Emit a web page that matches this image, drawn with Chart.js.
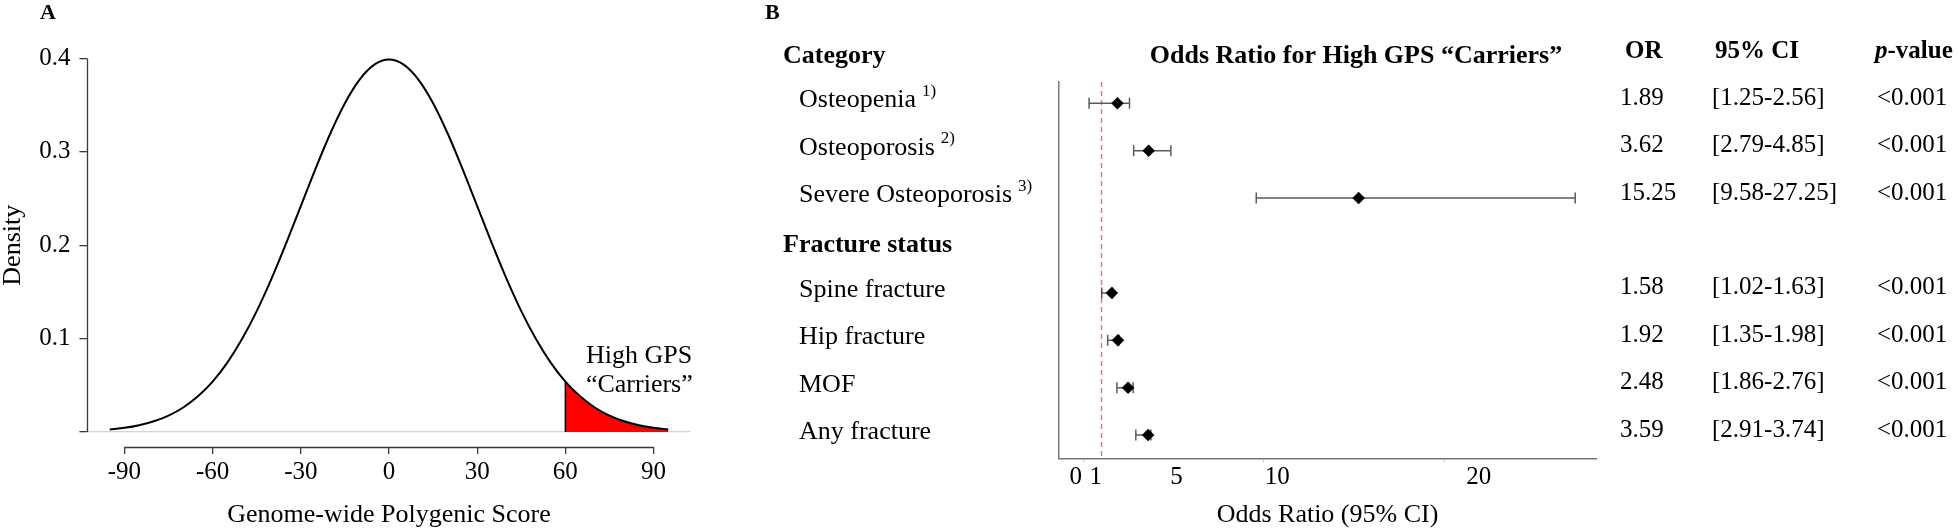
<!DOCTYPE html>
<html>
<head>
<meta charset="utf-8">
<script src="https://cdn.jsdelivr.net/npm/chart.js@4.4.1/dist/chart.umd.min.js"></script>
<style>
  html, body { margin: 0; padding: 0; background: #ffffff; }
  #wrap { position: relative; width: 1958px; height: 529px; overflow: hidden; background: #ffffff; }
  #wrap canvas { position: absolute; left: 0; top: 0; }
</style>
</head>
<body>
<div id="wrap">
  <canvas id="panelA" width="1958" height="529"></canvas>
  <canvas id="panelB" width="1958" height="529"></canvas>
</div>
<script>
// ---------------- Panel A data ----------------
const scoreX = [-95, -90, -85, -80, -75, -70, -65, -60, -55, -50, -45, -40, -35, -30, -25, -20, -15, -10, -5,
                0, 5, 10, 15, 20, 25, 30, 35, 40, 45, 50, 55, 60, 65, 70, 75, 80, 85, 90, 95];
const densityY = [0.0027, 0.0044, 0.0072, 0.0114, 0.0175, 0.0262, 0.0382, 0.0540, 0.0743, 0.0995, 0.1295,
                  0.1640, 0.2020, 0.2420, 0.2819, 0.3194, 0.3521, 0.3774, 0.3934,
                  0.3989, 0.3934, 0.3774, 0.3521, 0.3194, 0.2819, 0.2420, 0.2020, 0.1640, 0.1295, 0.0995,
                  0.0743, 0.0540, 0.0382, 0.0262, 0.0175, 0.0114, 0.0072, 0.0044, 0.0027];
const HIGH_GPS_CUTOFF = 60;
const scoreTicks = [-90, -60, -30, 0, 30, 60, 90];
const densityTicks = [0, 0.1, 0.2, 0.3, 0.4];
const annotationLines = ['High GPS', '\u201CCarriers\u201D'];
const annotationX = 67;
const annotationY = [0.0815, 0.0505];

// ---------------- Panel B data ----------------
const groupTitles = ['Category', 'Fracture status'];
const outcomeLabels = ['Osteopenia', 'Osteoporosis', 'Severe Osteoporosis', 'Spine fracture', 'Hip fracture', 'MOF', 'Any fracture'];
const outcomeNotes = ['1)', '2)', '3)', '', '', '', ''];
const outcomeGroup = [0, 0, 0, 1, 1, 1, 1];
const orValues = [1.89, 3.62, 15.25, 1.58, 1.92, 2.48, 3.59];
const ciLower = [0.32, 2.79, 9.58, 1.02, 1.35, 1.86, 2.91];   // whisker ends as drawn in the figure
const ciUpper = [2.56, 4.85, 27.25, 1.63, 1.98, 2.76, 3.74];
const orText = ['1.89', '3.62', '15.25', '1.58', '1.92', '2.48', '3.59'];
const ciText = ['[1.25-2.56]', '[2.79-4.85]', '[9.58-27.25]', '[1.02-1.63]', '[1.35-1.98]', '[1.86-2.76]', '[2.91-3.74]'];
const pText = ['<0.001', '<0.001', '<0.001', '<0.001', '<0.001', '<0.001', '<0.001'];
const orTickMarks = [0, 10, 20];
const orTickLabels = [0, 1, 5, 10, 20];
const NULL_OR = 1;

// ---------------- shared ----------------
const SERIF = "'Liberation Serif', 'Times New Roman', Times, serif";
const outcomeRow = outcomeGroup.map((g, i) => i + g);
const groupHeaderRow = groupTitles.map((_, g) => outcomeRow[outcomeGroup.indexOf(g)] - 1);

// ================= Panel A =================
const tailX = scoreX.filter(x => x >= HIGH_GPS_CUTOFF);
const tailY = densityY.filter((_, i) => scoreX[i] >= HIGH_GPS_CUTOFF);

const panelAExtras = {
  id: 'panelAExtras',
  afterDraw(chart) {
    const { ctx, chartArea, scales: { x, y } } = chart;
    ctx.save();
    ctx.strokeStyle = '#3a3a3a';
    ctx.lineWidth = 1.3;
    const ax = Math.round(chartArea.left) + 0.5;
    ctx.beginPath();
    ctx.moveTo(ax, y.getPixelForValue(densityTicks[0]));
    ctx.lineTo(ax, y.getPixelForValue(densityTicks[densityTicks.length - 1]));
    ctx.stroke();
    const ay = Math.round(chartArea.bottom) + 0.5;
    ctx.beginPath();
    ctx.moveTo(x.getPixelForValue(scoreTicks[0]), ay);
    ctx.lineTo(x.getPixelForValue(scoreTicks[scoreTicks.length - 1]), ay);
    ctx.stroke();

    ctx.fillStyle = '#000';
    ctx.textBaseline = 'middle';
    ctx.textAlign = 'left';
    ctx.font = `bold 22px ${SERIF}`;
    ctx.fillText('A', 40, 13);
    ctx.font = `26px ${SERIF}`;
    annotationLines.forEach((t, i) => {
      ctx.fillText(t, x.getPixelForValue(annotationX), y.getPixelForValue(annotationY[i]));
    });
    ctx.restore();
  }
};

new Chart(document.getElementById('panelA'), {
  type: 'line',
  data: {
    datasets: [
      {
        data: scoreX.map((x, i) => ({ x, y: densityY[i] })),
        borderColor: '#000', borderWidth: 2, pointRadius: 0, fill: false,
        cubicInterpolationMode: 'monotone'
      },
      {
        data: [{ x: tailX[0], y: 0 }, { x: tailX[0], y: tailY[0] }],
        borderColor: '#000', borderWidth: 1.5, pointRadius: 0, fill: false
      },
      {
        data: tailX.map((x, i) => ({ x, y: tailY[i] })),
        borderColor: 'rgba(0,0,0,0)', borderWidth: 1, backgroundColor: '#ff0000',
        fill: 'origin', pointRadius: 0, cubicInterpolationMode: 'monotone'
      }
    ]
  },
  options: {
    responsive: false, animation: false, devicePixelRatio: 1, events: [],
    layout: { padding: { top: 43.6, right: 1958 - 690.6, bottom: 0, left: 0 } },
    plugins: { legend: { display: false }, tooltip: { enabled: false } },
    scales: {
      x: {
        type: 'linear', min: -102.6, max: 102.6,
        afterBuildTicks: s => { s.ticks = scoreTicks.map(v => ({ value: v })); },
        afterFit: s => { s.height = 82.1; },
        border: { display: false },
        grid: { drawOnChartArea: false, tickLength: 7, tickColor: '#3a3a3a', lineWidth: 1.3 },
        ticks: { color: '#000', font: { family: SERIF, size: 25 }, padding: 4, maxRotation: 0, autoSkip: false,
                 callback: v => String(v) },
        title: { display: true, text: 'Genome-wide Polygenic Score', color: '#000',
                 font: { family: SERIF, size: 26, lineHeight: 1 }, padding: { top: 0, bottom: 1 } }
      },
      y: {
        type: 'linear', min: -0.016, max: 0.416,
        afterBuildTicks: s => { s.ticks = densityTicks.map(v => ({ value: v })); },
        afterFit: s => { s.width = 87.4; },
        border: { display: false },
        grid: {
          drawOnChartArea: true, tickLength: 8, tickColor: '#3a3a3a', lineWidth: 1.3,
          color: c => (c.tick && c.tick.value === 0) ? '#d4d4d4' : 'rgba(0,0,0,0)'
        },
        ticks: { color: '#000', font: { family: SERIF, size: 25 }, padding: 9,
                 callback: v => v === 0 ? '' : v.toFixed(1) },
        title: { display: true, text: 'Density', color: '#000',
                 font: { family: SERIF, size: 26, lineHeight: 1 }, padding: { top: 0, bottom: 0 } }
      }
    }
  },
  plugins: [panelAExtras]
});

// ================= Panel B =================
const panelBExtras = {
  id: 'panelBExtras',
  beforeDatasetsDraw(chart) {
    const { ctx, chartArea, scales: { x } } = chart;
    const px = Math.round(x.getPixelForValue(NULL_OR)) + 0.5;
    ctx.save();
    ctx.strokeStyle = 'rgba(232, 90, 90, 0.85)';
    ctx.lineWidth = 1.4;
    ctx.setLineDash([5, 4]);
    ctx.beginPath();
    ctx.moveTo(px, chartArea.top);
    ctx.lineTo(px, chartArea.bottom);
    ctx.stroke();
    ctx.restore();
  },
  afterDraw(chart) {
    const { ctx, scales: { y } } = chart;
    ctx.save();
    ctx.fillStyle = '#000';
    ctx.textBaseline = 'middle';
    ctx.textAlign = 'left';

    ctx.font = `bold 22px ${SERIF}`;
    ctx.fillText('B', 765, 13);

    // group headers
    ctx.font = `bold 26px ${SERIF}`;
    groupTitles.forEach((t, g) => ctx.fillText(t, 783, y.getPixelForValue(groupHeaderRow[g])));

    // outcome labels with superscript notes
    outcomeLabels.forEach((t, i) => {
      const py = y.getPixelForValue(outcomeRow[i]) - 3;
      ctx.font = `26px ${SERIF}`;
      ctx.fillText(t, 799, py);
      if (outcomeNotes[i]) {
        const w = ctx.measureText(t).width;
        ctx.font = `17px ${SERIF}`;
        ctx.fillText(outcomeNotes[i], 799 + w + 6, py - 9);
      }
    });

    const headY = y.getPixelForValue(groupHeaderRow[0]);
    // plot title
    ctx.font = `bold 26px ${SERIF}`;
    ctx.textAlign = 'center';
    ctx.fillText('Odds Ratio for High GPS \u201CCarriers\u201D', 1356, headY);

    // table headers
    ctx.textAlign = 'left';
    ctx.font = `bold 25px ${SERIF}`;
    ctx.fillText('OR', 1625, headY - 4);
    ctx.fillText('95% CI', 1715, headY - 4);
    ctx.font = `italic bold 25px ${SERIF}`;
    ctx.fillText('p', 1875, headY - 4);
    const pw = ctx.measureText('p').width;
    ctx.font = `bold 25px ${SERIF}`;
    ctx.fillText('-value', 1875 + pw, headY - 4);

    // table values
    ctx.font = `25px ${SERIF}`;
    outcomeLabels.forEach((_, i) => {
      const py = y.getPixelForValue(outcomeRow[i]) - 5;
      ctx.fillText(orText[i], 1620, py);
      ctx.fillText(ciText[i], 1712, py);
      ctx.fillText(pText[i], 1877, py);
    });
    ctx.restore();
  }
};

const ciDatasets = ciLower.map((lo, i) => ({
  data: [{ x: lo, y: outcomeRow[i] }, { x: ciUpper[i], y: outcomeRow[i] }],
  showLine: true,
  borderColor: '#5a5a5a', borderWidth: 1.5,
  pointStyle: 'line', pointRotation: 90, pointRadius: 5.5, pointBorderWidth: 1.5,
  pointBorderColor: '#5a5a5a', xAxisID: 'x', yAxisID: 'y'
}));

new Chart(document.getElementById('panelB'), {
  type: 'scatter',
  data: {
    datasets: [
      {
        data: orValues.map((v, i) => ({ x: v, y: outcomeRow[i] })),
        pointStyle: 'rectRot', pointRadius: 6, pointBorderWidth: 0.5,
        pointBackgroundColor: '#000', pointBorderColor: '#000',
        xAxisID: 'x', yAxisID: 'y'
      },
      ...ciDatasets
    ]
  },
  options: {
    responsive: false, animation: false, devicePixelRatio: 1, events: [],
    layout: { padding: { top: 82, right: 1958 - 1596, bottom: 0, left: 700 } },
    plugins: { legend: { display: false }, tooltip: { enabled: false } },
    scales: {
      x: {
        type: 'linear', position: 'bottom', weight: 0, min: -1.346, max: 28.40,
        afterBuildTicks: s => { s.ticks = orTickMarks.map(v => ({ value: v })); },
        afterFit: s => { s.height = 4; },
        border: { display: true, color: '#777', width: 1.5 },
        grid: { drawOnChartArea: false, tickLength: 4, tickColor: '#c8c8c8', lineWidth: 1 },
        ticks: { display: false }
      },
      x2: {
        type: 'linear', axis: 'x', position: 'bottom', weight: 1, min: -0.829, max: 25.82,
        afterBuildTicks: s => { s.ticks = orTickLabels.map(v => ({ value: v })); },
        afterFit: s => { s.height = 66.7; },
        border: { display: false },
        grid: { display: false, drawTicks: false },
        ticks: { color: '#000', font: { family: SERIF, size: 25 }, padding: 0, maxRotation: 0, autoSkip: false,
                 callback: v => String(v) },
        title: { display: true, text: 'Odds Ratio (95% CI)', color: '#000',
                 font: { family: SERIF, size: 26, lineHeight: 1 }, padding: { top: 0, bottom: 1 } }
      },
      y: {
        type: 'linear', reverse: true, min: -0.45, max: 7.49,
        afterFit: s => { s.width = 359; },
        border: { display: true, color: '#777', width: 1.5 },
        grid: { display: false },
        ticks: { display: false }
      }
    }
  },
  plugins: [panelBExtras]
});
</script>
</body>
</html>
